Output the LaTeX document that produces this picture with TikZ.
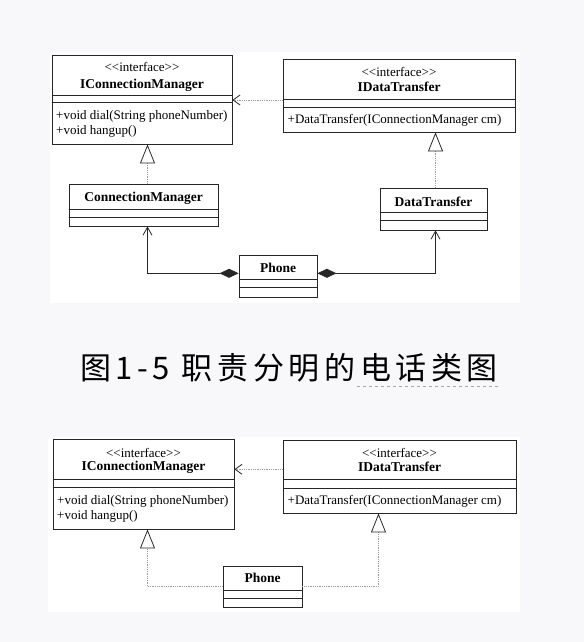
\documentclass[tikz,border=0pt]{standalone}
\usepackage{fontspec}
\setmainfont{Liberation Serif}
\newfontfamily\cjk[LetterSpace=15]{Noto Sans CJK SC}
\usetikzlibrary{arrows.meta}
\definecolor{pageBg}{HTML}{F8F8FA}
\tikzset{
	classBox/.style={rectangle, draw=black!85, line width=0.8pt, fill=white, inner sep=0pt},
	umlText/.style={inner sep=0pt, font=\fontsize{13}{15}\selectfont},
	umlName/.style={inner sep=0pt, font=\fontsize{13.5}{15}\selectfont\bfseries},
	divider/.style={draw=black!85, line width=0.8pt},
	dep/.style={densely dotted, draw=gray!80, line width=0.8pt, -{Straight Barb[length=7pt, width=10pt, color=black!85]}},
	real/.style={densely dotted, draw=gray!80, line width=0.8pt, -{Triangle[open, length=19pt, width=15pt, fill=white, color=black!85]}},
	comp/.style={draw=black!85, line width=0.8pt, {Diamond[length=19pt, width=9pt]}-{Straight Barb[length=8pt, width=9pt]}}
}
\begin{document}
\begin{tikzpicture}[x=1pt, y=-1pt]
	\fill[pageBg] (0,0) rectangle (584,642);
	\useasboundingbox (0,0) rectangle (584,642);
	% panels
	\fill[white] (50,52) rectangle (520,303);
	\fill[white] (48,437) rectangle (520,612);

	% top diagram
	\node[classBox, minimum width=180pt, minimum height=89pt](icmTop) at (142,99.5){};
	\draw[divider] ([yshift=-40.7pt]icmTop.north west) -- ([yshift=-40.7pt]icmTop.north east);
	\draw[divider] ([yshift=-47.3pt]icmTop.north west) -- ([yshift=-47.3pt]icmTop.north east);
	\node[umlText](icmTopStereo) at (142,66.7){<{}<interface>{}>};
	\node[umlName](icmTopName) at (142,85){IConnectionManager};
	\node[umlText, anchor=west](icmTopDial) at (56,116.7){+void dial(String phoneNumber)};
	\node[umlText, anchor=west](icmTopHang) at (56,131){+void hangup()};

	\node[classBox, minimum width=232pt, minimum height=73pt](idtTop) at (399,95.5){};
	\draw[divider] ([yshift=-40.3pt]idtTop.north west) -- ([yshift=-40.3pt]idtTop.north east);
	\draw[divider] ([yshift=-48.7pt]idtTop.north west) -- ([yshift=-48.7pt]idtTop.north east);
	\node[umlText](idtTopStereo) at (399,72.3){<{}<interface>{}>};
	\node[umlName](idtTopName) at (399,86.7){IDataTransfer};
	\node[umlText, anchor=west](idtTopCtor) at (287.5,120){+DataTransfer(IConnectionManager cm)};

	\node[classBox, minimum width=149pt, minimum height=42pt](cmTop) at (143.5,205){};
	\draw[divider] ([yshift=-25.3pt]cmTop.north west) -- ([yshift=-25.3pt]cmTop.north east);
	\draw[divider] ([yshift=-33.7pt]cmTop.north west) -- ([yshift=-33.7pt]cmTop.north east);
	\node[umlName](cmTopName) at (143.5,198.3){ConnectionManager};

	\node[classBox, minimum width=107pt, minimum height=42pt](dtTop) at (433.5,209){};
	\draw[divider] ([yshift=-24.7pt]dtTop.north west) -- ([yshift=-24.7pt]dtTop.north east);
	\draw[divider] ([yshift=-33pt]dtTop.north west) -- ([yshift=-33pt]dtTop.north east);
	\node[umlName](dtTopName) at (433.5,201.7){DataTransfer};

	\node[classBox, minimum width=78pt, minimum height=42pt](phoneTop) at (278,276){};
	\draw[divider] ([yshift=-24.3pt]phoneTop.north west) -- ([yshift=-24.3pt]phoneTop.north east);
	\draw[divider] ([yshift=-32.7pt]phoneTop.north west) -- ([yshift=-32.7pt]phoneTop.north east);
	\node[umlName](phoneTopName) at (278,268.3){Phone};

	\draw[dep]([yshift=-4.5pt]idtTop.west) -- ([yshift=-4.5pt]idtTop.west -| icmTop.east);
	\draw[real]([xshift=4pt]cmTop.north) -- ([xshift=4pt]cmTop.north |- icmTop.south);
	\draw[real]([xshift=2pt]dtTop.north) -- ([xshift=2pt]dtTop.north |- idtTop.south);
	\draw[comp]([yshift=2.7pt]phoneTop.west) -| ([xshift=4pt]cmTop.south);
	\draw[comp]([yshift=2.7pt]phoneTop.east) -| ([xshift=2pt]dtTop.south);

	% caption
	\node[inner sep=0pt, font=\cjk\fontsize{31}{36}\selectfont](caption) at (289,368){图1-5 职责分明的电话类图};
	\draw[gray!70, line width=0.6pt, dash pattern=on 2.5pt off 3.5pt] (357,386) -- (498,386);

	% bottom diagram
	\node[classBox, minimum width=181pt, minimum height=90pt](icmBtm) at (143.5,484){};
	\draw[divider] ([yshift=-40.7pt]icmBtm.north west) -- ([yshift=-40.7pt]icmBtm.north east);
	\draw[divider] ([yshift=-48.4pt]icmBtm.north west) -- ([yshift=-48.4pt]icmBtm.north east);
	\node[umlText](icmBtmStereo) at (143.5,452.7){<{}<interface>{}>};
	\node[umlName](icmBtmName) at (143.5,467.3){IConnectionManager};
	\node[umlText, anchor=west](icmBtmDial) at (57,501){+void dial(String phoneNumber)};
	\node[umlText, anchor=west](icmBtmHang) at (57,516.7){+void hangup()};

	\node[classBox, minimum width=233pt, minimum height=73pt](idtBtm) at (399.5,476.5){};
	\draw[divider] ([yshift=-40pt]idtBtm.north west) -- ([yshift=-40pt]idtBtm.north east);
	\draw[divider] ([yshift=-48.3pt]idtBtm.north west) -- ([yshift=-48.3pt]idtBtm.north east);
	\node[umlText](idtBtmStereo) at (399.5,452.7){<{}<interface>{}>};
	\node[umlName](idtBtmName) at (399.5,467.3){IDataTransfer};
	\node[umlText, anchor=west](idtBtmCtor) at (287.5,501){+DataTransfer(IConnectionManager cm)};

	\node[classBox, minimum width=79pt, minimum height=41pt](phoneBtm) at (262.5,586.5){};
	\draw[divider] ([yshift=-25pt]phoneBtm.north west) -- ([yshift=-25pt]phoneBtm.north east);
	\draw[divider] ([yshift=-33pt]phoneBtm.north west) -- ([yshift=-33pt]phoneBtm.north east);
	\node[umlName](phoneBtmName) at (262.5,577.7){Phone};

	\draw[dep]([yshift=7.2pt]idtBtm.west) -- ([yshift=7.2pt]idtBtm.west -| icmBtm.east);
	\draw[real](phoneBtm.west) -| ([xshift=4pt]icmBtm.south);
	\draw[real](phoneBtm.east) -| ([xshift=-21pt]idtBtm.south);
\end{tikzpicture}
\end{document}
